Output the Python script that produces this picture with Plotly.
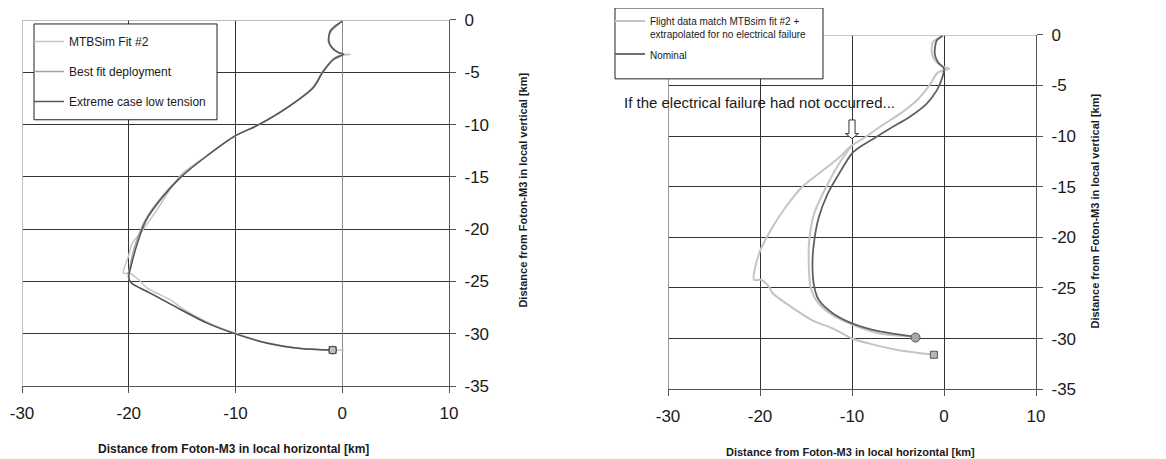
import plotly.graph_objects as go

# ---------------- data (km) ----------------
# Left panel
fit2_x = [0.0, -0.4, -1.1, -1.3, -1.0, -0.4, 0.1, 0.75, -0.3, -0.9, -1.9, -2.8, -5.0, -8.0, -10.0, -12.7,
          -15.0, -16.0, -17.4, -18.6, -19.7, -20.0, -20.5, -19.9, -19.1, -18.3, -16.0, -15.1, -12.6,
          -10.0, -7.0, -3.9, -0.9, 0.15]
fit2_y = [-0.1, -0.5, -1.2, -2.1, -2.7, -3.1, -3.25, -3.3, -3.4, -3.8, -5.0, -6.45, -8.25, -10.1, -11.05, -13.0,
          -14.7, -16.0, -18.2, -19.95, -21.4, -22.5, -24.2, -24.2, -24.8, -25.6, -26.8, -27.5, -28.9,
          -29.95, -30.85, -31.4, -31.55, -31.55]

best_x = [0.0, -0.6, -1.1, -1.25, -0.95, -0.35, 0.1, -0.8, -1.8, -2.7, -5.0, -8.0, -10.0, -12.7, -15.1,
          -16.9, -18.5, -19.45, -19.9, -20.05, -19.8, -18.0, -15.1, -12.6, -10.0, -7.0, -3.9, -0.9]
best_y = [-0.1, -0.6, -1.1, -2.0, -2.65, -3.1, -3.25, -3.75, -4.95, -6.45, -8.25, -10.1, -11.05, -13.0, -15.0,
          -16.9, -19.2, -21.7, -23.6, -24.5, -25.1, -26.1, -27.7, -29.0, -30.0, -30.9, -31.4, -31.55]

extreme_x = [0.0, -0.66, -1.12, -1.28, -0.96, -0.35, 0.12, -0.8, -1.8, -2.7, -4.9, -8.0, -10.0, -12.7, -15.1,
             -16.8, -18.4, -19.3, -19.8, -20.0, -19.8, -18.0, -15.1, -12.6, -10.0, -7.0, -3.9, -0.9]
extreme_y = [-0.1, -0.57, -1.05, -2.0, -2.64, -3.12, -3.27, -3.75, -4.95, -6.45, -8.2, -10.1, -11.05, -13.0, -15.0,
             -16.9, -19.2, -21.7, -23.6, -24.5, -25.1, -26.1, -27.7, -29.0, -30.0, -30.9, -31.4, -31.55]

# Right panel
nominal_x = [-0.1, -0.8, -1.0, -0.65, 0.0, -0.3, -0.8, -1.9, -3.75, -5.6, -7.4, -9.2, -10.0, -11.4, -12.65,
             -13.6, -14.1, -14.3, -14.1, -13.6, -12.1, -10.0, -7.0, -3.4, -3.1]
nominal_y = [-0.07, -0.56, -1.9, -2.7, -3.35, -4.5, -5.5, -6.8, -8.1, -9.1, -10.1, -11.1, -11.7, -13.7, -15.7,
             -18.0, -20.3, -22.6, -24.9, -26.2, -27.5, -28.5, -29.3, -29.8, -29.9]

flight_x = [-0.3, -1.2, -1.3, -0.8, 0.07, 0.6, -0.65, -1.6, -3.0, -4.8, -7.0, -8.8, -10.0, -11.4, -13.6,
            -15.4, -17.2, -18.65, -20.1, -20.65, -19.9, -19.0, -18.65, -17.2, -14.3, -12.1, -10.0, -8.1,
            -5.2, -1.1]
flight_y = [-0.2, -0.7, -1.9, -2.7, -3.2, -3.35, -3.7, -5.0, -6.5, -7.8, -9.1, -10.25, -10.9, -12.1, -13.7,
            -15.0, -17.0, -19.0, -21.6, -24.2, -24.2, -24.9, -25.5, -26.5, -28.2, -29.0, -30.0, -30.5,
            -31.1, -31.6]

extrap_x = [-10.0, -11.4, -12.8, -14.1, -14.65, -14.7, -14.5, -13.75, -12.1, -9.9, -7.0, -3.4]
extrap_y = [-10.9, -12.7, -15.0, -17.6, -20.3, -22.6, -24.9, -26.4, -27.7, -28.65, -29.5, -29.8]

# axes
x_range = [-30, 10]
y_range = [-35, 0]
x_tick_vals = [-30, -20, -10, 0, 10]
x_tick_text = ["-30", "-20", "-10", "0", "10"]
y_tick_vals = [0, -5, -10, -15, -20, -25, -30, -35]
y_tick_text = ["0", "-5", "-10", "-15", "-20", "-25", "-30", "-35"]

# annotation arrow (hollow, pointing down at split point)
arrow_x = -10.0
arrow_top = -8.4
arrow_neck = -9.75
arrow_tip = -10.25

# ---------------- styles ----------------
OFF = 8                      # page body margin
WS, HS = 1166, 459           # screen size
W, H = WS - OFF, HS - OFF    # figure size


def px(x):
    return (x - OFF) / W


def py(y):
    return 1 - (y - OFF) / H


FONT = "Liberation Sans"
TXT = "#1a1a1a"
LIGHT = "#c4c4c4"
MID = "#a4a4a4"
DARK = "#555555"
GRID = "#333333"
SM = 0.8

fig = go.Figure()

# left panel traces
fig.add_trace(go.Scatter(x=fit2_x, y=fit2_y, mode="lines", name="MTBSim Fit #2",
                         line=dict(color=LIGHT, width=1.5, shape="spline", smoothing=SM), xaxis="x", yaxis="y",
                         legend="legend", legendgroup="a"))
fig.add_trace(go.Scatter(x=best_x, y=best_y, mode="lines", name="Best fit deployment",
                         line=dict(color=MID, width=1.5, shape="spline", smoothing=SM), xaxis="x", yaxis="y",
                         legend="legend", legendgroup="b"))
fig.add_trace(go.Scatter(x=extreme_x, y=extreme_y, mode="lines", name="Extreme case low tension",
                         line=dict(color=DARK, width=1.5, shape="spline", smoothing=SM), xaxis="x", yaxis="y",
                         legend="legend", legendgroup="c"))
fig.add_trace(go.Scatter(x=[fit2_x[-2]], y=[fit2_y[-2]], mode="markers", showlegend=False,
                         marker=dict(symbol="square", size=7, color="#c0c0c0",
                                     line=dict(color="#444", width=1)), xaxis="x", yaxis="y"))
fig.add_trace(go.Scatter(x=[best_x[-1]], y=[best_y[-1]], mode="markers", showlegend=False,
                         marker=dict(symbol="circle-open", size=8, color="#555",
                                     line=dict(color="#555", width=1)), xaxis="x", yaxis="y"))

# right panel traces
fig.add_trace(go.Scatter(x=flight_x, y=flight_y, mode="lines",
                         name="Flight data match MTBsim fit #2 +<br>extrapolated for no electrical failure",
                         line=dict(color=LIGHT, width=2, shape="spline", smoothing=SM), xaxis="x2", yaxis="y2",
                         legend="legend2", legendgroup="f"))
fig.add_trace(go.Scatter(x=extrap_x, y=extrap_y, mode="lines", showlegend=False,
                         line=dict(color=LIGHT, width=2, shape="spline", smoothing=SM), xaxis="x2", yaxis="y2",
                         legend="legend2", legendgroup="f"))
fig.add_trace(go.Scatter(x=nominal_x, y=nominal_y, mode="lines", name="Nominal",
                         line=dict(color="#606060", width=1.8, shape="spline", smoothing=SM), xaxis="x2", yaxis="y2",
                         legend="legend2", legendgroup="n"))
fig.add_trace(go.Scatter(x=[nominal_x[-1]], y=[nominal_y[-1]], mode="markers", showlegend=False,
                         marker=dict(symbol="circle", size=9, color="#a8a8a8",
                                     line=dict(color="#555", width=1)), xaxis="x2", yaxis="y2"))
fig.add_trace(go.Scatter(x=[flight_x[-1]], y=[flight_y[-1]], mode="markers", showlegend=False,
                         marker=dict(symbol="square", size=7, color="#b8b8b8",
                                     line=dict(color="#555", width=1)), xaxis="x2", yaxis="y2"))


def xaxis_cfg(domain, anchor, zcol):
    return dict(domain=domain, anchor=anchor, range=x_range, tickvals=x_tick_vals, ticktext=x_tick_text,
                showgrid=True, gridcolor=GRID, gridwidth=1, zeroline=True, zerolinecolor=zcol,
                zerolinewidth=1.2, showline=True, linecolor="#555", linewidth=1.2, mirror=False,
                ticks="outside", ticklen=6, tickcolor="#555", ticklabelstandoff=5,
                tickfont=dict(family=FONT, size=17, color=TXT), fixedrange=True, automargin=False)


def yaxis_cfg(domain, anchor):
    return dict(domain=domain, anchor=anchor, range=y_range, tickvals=y_tick_vals, ticktext=y_tick_text,
                side="right", showgrid=True, gridcolor=GRID, gridwidth=1, zeroline=False,
                showline=True, linecolor="#555", linewidth=1.2, mirror=False,
                ticks="outside", ticklen=6, tickcolor="#555", ticklabelstandoff=5,
                tickfont=dict(family=FONT, size=17, color=TXT), fixedrange=True, automargin=False)


L_x = [px(22), px(449)]
L_y = [py(386), py(19)]
R_x = [px(668), px(1036)]
R_y = [py(389), py(34)]

shapes = []
# borders (left edge and top edge) for each panel
for xr, yr, lcol, tcol in (("x", "y", "#c4c4c4", "#a8a8a8"), ("x2", "y2", "#9a9a9a", "#b4b4b4")):
    shapes.append(dict(type="line", xref=xr, yref=yr, x0=x_range[0], x1=x_range[0], y0=y_range[0],
                       y1=y_range[1], line=dict(color=lcol, width=2), layer="above"))
    shapes.append(dict(type="line", xref=xr, yref=yr, x0=x_range[0], x1=x_range[1], y0=y_range[1],
                       y1=y_range[1], line=dict(color=tcol, width=1.5), layer="above"))

# hollow arrow on right panel
hw, hh = 0.33, 0.7
path = (f"M {arrow_x - hw},{arrow_top} L {arrow_x + hw},{arrow_top} L {arrow_x + hw},{arrow_neck} "
        f"L {arrow_x + hh},{arrow_neck} L {arrow_x},{arrow_tip} L {arrow_x - hh},{arrow_neck} "
        f"L {arrow_x - hw},{arrow_neck} Z")
shapes.append(dict(type="path", xref="x2", yref="y2", path=path, fillcolor="white",
                   line=dict(color="#333", width=1), layer="above"))

# legend boxes
shapes.append(dict(type="rect", xref="paper", yref="paper", x0=px(34), x1=px(217), y0=py(119),
                   y1=py(23), fillcolor="white", line=dict(color="#222", width=1), layer="above"))
shapes.append(dict(type="rect", xref="paper", yref="paper", x0=px(615), x1=px(823), y0=py(78),
                   y1=py(7), fillcolor="white", line=dict(color="#222", width=1), layer="above"))

annotations = [
    dict(text="<b>Distance from Foton-M3 in local horizontal [km]</b>", xref="paper", yref="paper",
         x=px(233), y=py(449), xanchor="center", yanchor="middle", showarrow=False,
         font=dict(family=FONT, size=12, color=TXT)),
    dict(text="<b>Distance from Foton-M3 in local horizontal [km]</b>", xref="paper", yref="paper",
         x=px(850), y=py(452), xanchor="center", yanchor="middle", showarrow=False,
         font=dict(family=FONT, size=11, color=TXT)),
    dict(text="<b>Distance from Foton-M3 in local vertical [km]</b>", xref="paper", yref="paper",
         x=px(523), y=py(190), xanchor="center", yanchor="middle", showarrow=False, textangle=-90,
         font=dict(family=FONT, size=11, color=TXT)),
    dict(text="<b>Distance from Foton-M3 in local vertical [km]</b>", xref="paper", yref="paper",
         x=px(1095), y=py(211), xanchor="center", yanchor="middle", showarrow=False, textangle=-90,
         font=dict(family=FONT, size=11, color=TXT)),
    dict(text="If the electrical failure had not occurred...", xref="paper", yref="paper",
         x=px(622), y=py(102), xanchor="left", yanchor="middle", showarrow=False,
         font=dict(family=FONT, size=15, color=TXT)),
]

fig.update_layout(
    width=W, height=H, margin=dict(l=0, r=0, t=0, b=0),
    paper_bgcolor="white", plot_bgcolor="white",
    xaxis=xaxis_cfg(L_x, "y", "#8c8c8c"),
    yaxis=yaxis_cfg(L_y, "x"),
    xaxis2=xaxis_cfg(R_x, "y2", "#333333"),
    yaxis2=yaxis_cfg(R_y, "x2"),
    shapes=shapes,
    annotations=annotations,
    legend=dict(x=px(29), y=py(27), xanchor="left", yanchor="top", bgcolor="rgba(0,0,0,0)",
                borderwidth=0, traceorder="grouped", tracegroupgap=11,
                font=dict(family=FONT, size=12, color=TXT)),
    legend2=dict(x=px(610), y=py(7), xanchor="left", yanchor="top", bgcolor="rgba(0,0,0,0)",
                 borderwidth=0, traceorder="grouped", tracegroupgap=4, valign="top",
                 font=dict(family=FONT, size=10, color=TXT)),
    showlegend=True,
)

fig.write_html("out.html")
